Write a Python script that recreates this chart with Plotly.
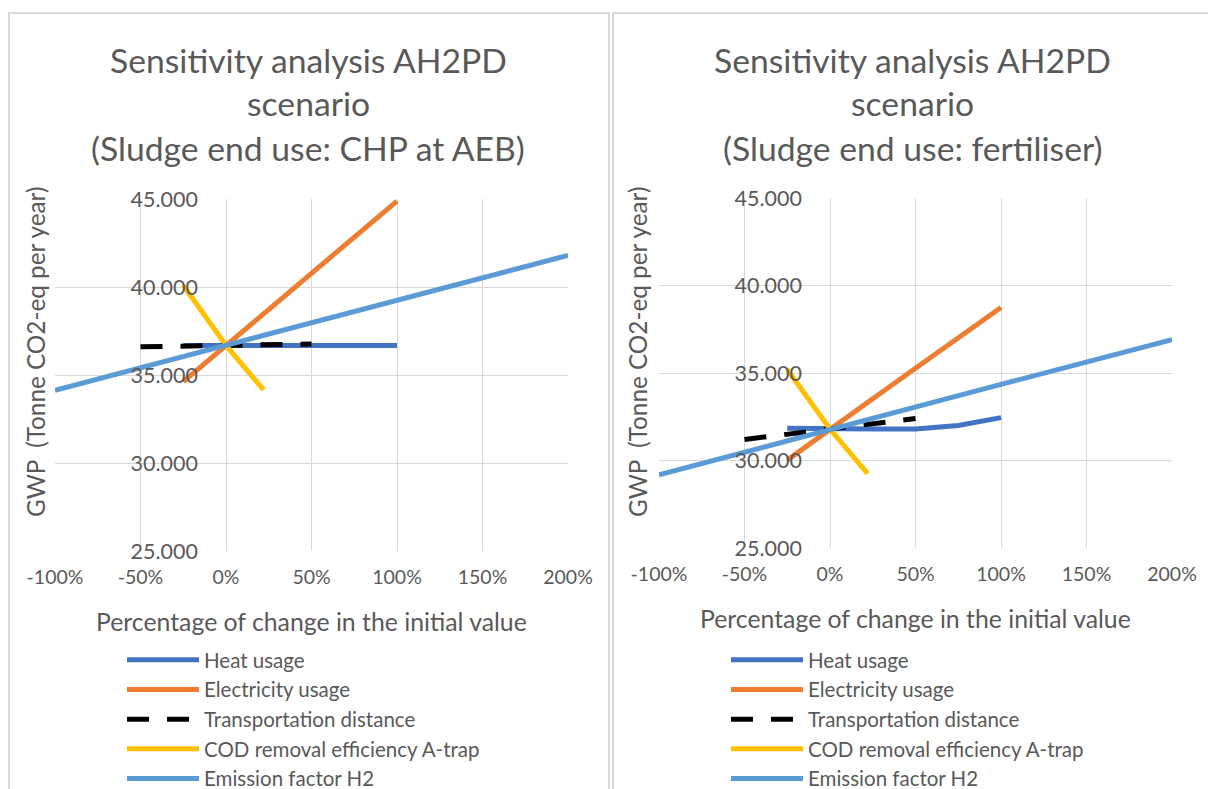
import plotly.graph_objects as go

# Sensitivity results: change in input parameter (fraction) vs. GWP (tonne CO2-eq per year)
series_names = ["Heat usage", "Electricity usage", "Transportation distance",
                "COD removal efficiency A-trap", "Emission factor H2"]
series_colors = ["#4472C4", "#ED7D31", "#000000", "#FFC000", "#5B9BD5"]

# Scenario 1: sludge end use CHP at AEB
chp_heat_x = [-0.25, 0.0, 0.25, 0.5, 0.75, 1.0]
chp_heat_y = [36680, 36680, 36680, 36680, 36680, 36680]
chp_elec_x = [-0.25, 0.0, 0.25, 0.5, 0.75, 1.0]
chp_elec_y = [34620, 36680, 38730, 40780, 42830, 44880]
chp_trans_x = [-0.5, -0.25, 0.0, 0.25, 0.5]
chp_trans_y = [36600, 36640, 36680, 36720, 36760]
chp_cod_x = [-0.25, 0.0, 0.22]
chp_cod_y = [40100, 36680, 34150]
chp_h2_x = [-1.0, 0.0, 1.0, 2.0]
chp_h2_y = [34130, 36680, 39240, 41800]

# Scenario 2: sludge end use fertiliser
fer_heat_x = [-0.25, 0.0, 0.25, 0.5, 0.75, 1.0]
fer_heat_y = [31850, 31800, 31800, 31800, 32000, 32450]
fer_elec_x = [-0.25, 0.0, 0.25, 0.5, 0.75, 1.0]
fer_elec_y = [30020, 31800, 33530, 35270, 37000, 38740]
fer_trans_x = [-0.5, -0.25, 0.0, 0.25, 0.5]
fer_trans_y = [31200, 31500, 31800, 32100, 32400]
fer_cod_x = [-0.25, 0.0, 0.22]
fer_cod_y = [35200, 31800, 29250]
fer_h2_x = [-1.0, 0.0, 1.0, 2.0]
fer_h2_y = [29180, 31800, 34350, 36900]

x_tick_vals = [-1.0, -0.5, 0.0, 0.5, 1.0, 1.5, 2.0]
x_tick_text = ["-100%", "-50%", "0%", "50%", "100%", "150%", "200%"]
y_tick_vals = [25000, 30000, 35000, 40000, 45000]

title_lines_left = ["Sensitivity analysis AH2PD", "scenario", "(Sludge end use: CHP at AEB)"]
title_lines_right = ["Sensitivity analysis AH2PD", "scenario", "(Sludge end use: fertiliser)"]
x_title = "Percentage of change in the initial value"
y_title = "GWP  (Tonne CO2-eq per year)"

FONT = "Lato"
TXT = "#595959"
GRID = "#D9D9D9"
W, H = 1208, 789

fig = go.Figure()

panels = [
    (dict(x=[chp_heat_x, chp_elec_x, chp_trans_x, chp_cod_x, chp_h2_x],
          y=[chp_heat_y, chp_elec_y, chp_trans_y, chp_cod_y, chp_h2_y]), "x", "y", "legend"),
    (dict(x=[fer_heat_x, fer_elec_x, fer_trans_x, fer_cod_x, fer_h2_x],
          y=[fer_heat_y, fer_elec_y, fer_trans_y, fer_cod_y, fer_h2_y]), "x2", "y2", "legend2"),
]

for data, xa, ya, lg in panels:
    for i, name in enumerate(series_names):
        fig.add_trace(go.Scatter(
            x=data["x"][i], y=data["y"][i], name=name, mode="lines",
            line=dict(color=series_colors[i], width=5,
                      dash="22px,18px" if i == 2 else "solid"),
            xaxis=xa, yaxis=ya, legend=lg, hoverinfo="skip"))

x_dom_l = [55 / W, 568 / W]
x_dom_r = [659 / W, 1172 / W]
y_dom_l = [1 - 551 / H, 1 - 199 / H]
y_dom_r = [1 - 548 / H, 1 - 198 / H]

def xaxis(dom, anchor):
    return dict(domain=dom, anchor=anchor, range=[-1, 2], tickvals=x_tick_vals,
                ticktext=x_tick_text, showgrid=True, gridcolor=GRID, gridwidth=1.3,
                zeroline=False, showline=False, ticks="", ticklabelstandoff=12,
                automargin=False,
                tickfont=dict(family=FONT, size=19.5, color=TXT), fixedrange=True)

def yaxis(dom, pos):
    return dict(domain=dom, anchor="free", position=pos, range=[25000, 45000],
                tickvals=y_tick_vals, tickformat=",d", showgrid=True,
                gridcolor=GRID, gridwidth=1.3, zeroline=False, showline=False,
                ticks="", ticklabelstandoff=28, automargin=False,
                tickfont=dict(family=FONT, size=21.5, color=TXT), fixedrange=True)

legend_common = dict(font=dict(family=FONT, size=20.5, color=TXT), bgcolor="rgba(0,0,0,0)",
                     xanchor="left", yanchor="top", itemwidth=72, tracegroupgap=0,
                     itemclick=False, itemdoubleclick=False)

annotations = []
for lines, cx in ((title_lines_left, 308), (title_lines_right, 913)):
    for line, cy in zip(lines, [60, 103, 148]):
        annotations.append(dict(text=line, x=cx / W, y=1 - cy / H, xref="paper", yref="paper",
                                showarrow=False, xanchor="center", yanchor="middle",
                                font=dict(family=FONT, size=33.7, color=TXT)))
for cx, cy in ((311, 621), (915, 618)):
    annotations.append(dict(text=x_title, x=cx / W, y=1 - cy / H, xref="paper", yref="paper",
                            showarrow=False, xanchor="center", yanchor="middle",
                            font=dict(family=FONT, size=24.8, color=TXT)))
for cx, cy in ((35, 352), (637, 352)):
    annotations.append(dict(text=y_title, x=cx / W, y=1 - cy / H, xref="paper", yref="paper",
                            showarrow=False, xanchor="center", yanchor="middle", textangle=-90,
                            font=dict(family=FONT, size=24.3, color=TXT)))

# chart frames
shapes = [
    dict(type="rect", xref="paper", yref="paper", x0=9 / W, x1=609 / W, y0=-0.05, y1=1 - 13 / H,
         line=dict(color=GRID, width=2), fillcolor="rgba(0,0,0,0)", layer="below"),
    dict(type="rect", xref="paper", yref="paper", x0=613 / W, x1=1.05, y0=-0.05, y1=1 - 13 / H,
         line=dict(color=GRID, width=2), fillcolor="rgba(0,0,0,0)", layer="below"),
]

fig.update_layout(
    width=W, height=H, margin=dict(l=0, r=0, t=0, b=0, autoexpand=False),
    paper_bgcolor="white", plot_bgcolor="white", separators=",.",
    xaxis=xaxis(x_dom_l, "y"), yaxis=yaxis(y_dom_l, 55 / W + (513 / W) / 3),
    xaxis2=xaxis(x_dom_r, "y2"), yaxis2=yaxis(y_dom_r, 659 / W + (513 / W) / 3),
    legend=dict(x=122 / W, y=1 - 640 / H, **legend_common),
    legend2=dict(x=726 / W, y=1 - 640 / H, **legend_common),
    annotations=annotations, shapes=shapes, showlegend=True,
)

fig.write_html("out.html", config={"displayModeBar": False})
